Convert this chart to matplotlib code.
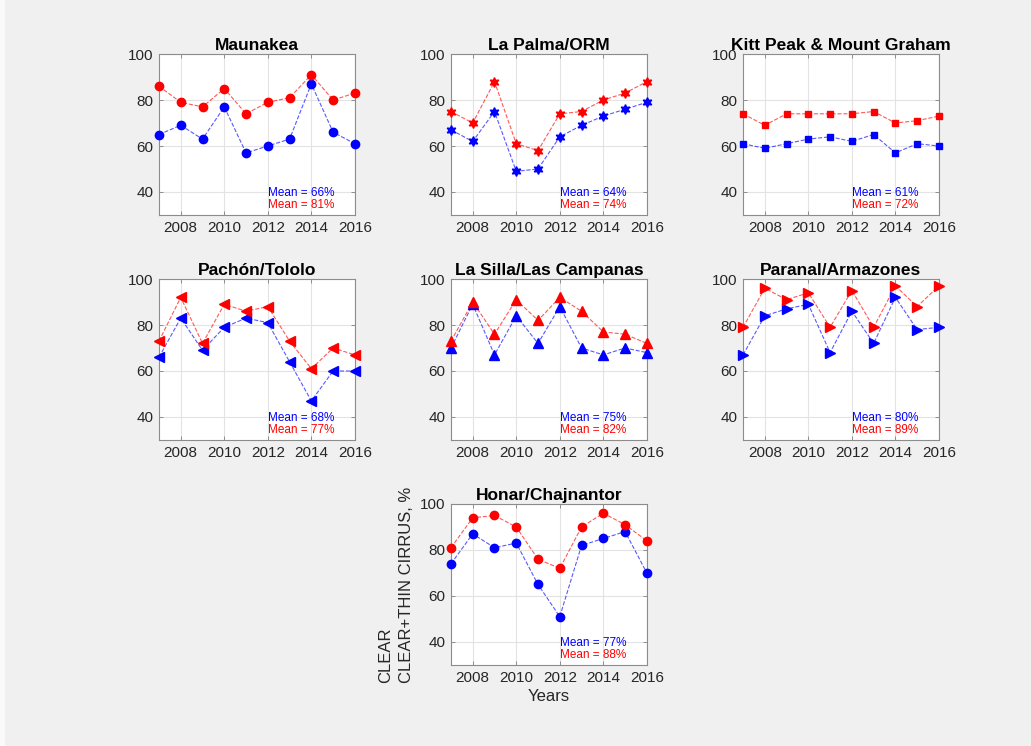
import matplotlib
matplotlib.use('Agg')
import matplotlib.pyplot as plt
from matplotlib.patches import Rectangle

plt.rcParams['font.family'] = ['Liberation Sans', 'DejaVu Sans']

years = [2007, 2008, 2009, 2010, 2011, 2012, 2013, 2014, 2015, 2016]

sites = ['Maunakea', 'La Palma/ORM', 'Kitt Peak & Mount Graham',
         'Pachón/Tololo', 'La Silla/Las Campanas', 'Paranal/Armazones',
         'Honar/Chajnantor']

clear = [
    [65, 69, 63, 77, 57, 60, 63, 87, 66, 61],
    [67, 62, 75, 49, 50, 64, 69, 73, 76, 79],
    [61, 59, 61, 63, 64, 62, 65, 57, 61, 60],
    [66, 83, 69, 79, 83, 81, 64, 47, 60, 60],
    [70, 89, 67, 84, 72, 88, 70, 67, 70, 68],
    [67, 84, 87, 89, 68, 86, 72, 92, 78, 79],
    [74, 87, 81, 83, 65, 51, 82, 85, 88, 70],
]
clear_cirrus = [
    [86, 79, 77, 85, 74, 79, 81, 91, 80, 83],
    [75, 70, 88, 61, 58, 74, 75, 80, 83, 88],
    [74, 69, 74, 74, 74, 74, 75, 70, 71, 73],
    [73, 92, 72, 89, 86, 88, 73, 61, 70, 67],
    [73, 90, 76, 91, 82, 92, 86, 77, 76, 72],
    [79, 96, 91, 94, 79, 95, 79, 97, 88, 97],
    [81, 94, 95, 90, 76, 72, 90, 96, 91, 84],
]
mean_clear = [66, 64, 61, 68, 75, 80, 77]
mean_cirrus = [81, 74, 72, 77, 82, 89, 88]

# marker per site (hexagram for La Palma)
markers = ['o', (6, 1, 0), 's', '<', '^', '>', 'o']
msizes = [6, 7, 5, 7, 7, 7, 6]

# axes boxes in figure fractions
cols = [0.1542, 0.4374, 0.7207]
rows = [0.7118, 0.4102, 0.1086]
positions = []
for r in range(2):
    for c in range(3):
        positions.append([cols[c], rows[r], 0.190, 0.2158])
positions.append([cols[1], rows[2], 0.190, 0.2158])

fig = plt.figure(figsize=(10.31, 7.46), dpi=100)
fig.patch.set_facecolor('#f0f0f0')
fig.patches.append(Rectangle((0, 0), 0.005, 1, transform=fig.transFigure,
                             facecolor='#fafafa', edgecolor='none', zorder=-1))

txt = '#262626'
for i, site in enumerate(sites):
    ax = fig.add_axes(positions[i])
    ax.set_facecolor('white')
    ax.plot(years, clear[i], '--', color=(0, 0, 1, 0.65), lw=0.8)
    ax.plot(years, clear_cirrus[i], '--', color=(1, 0, 0, 0.65), lw=0.8)
    ax.plot(years, clear[i], ls='none', marker=markers[i], ms=msizes[i],
            color='#0000ff', mec='#0000ff', clip_on=False, zorder=3)
    ax.plot(years, clear_cirrus[i], ls='none', marker=markers[i], ms=msizes[i],
            color='#ff0000', mec='#ff0000', clip_on=False, zorder=3)
    ax.set_xlim(2007, 2016)
    ax.set_ylim(30, 100)
    ax.set_xticks([2008, 2010, 2012, 2014, 2016])
    ax.set_yticks([40, 60, 80, 100])
    ax.grid(True, color='#e3e3e3', lw=0.8)
    ax.set_axisbelow(True)
    ax.tick_params(direction='in', length=3, width=0.6, colors='#808080',
                   labelcolor=txt, labelsize=11, top=True, right=True, pad=4)
    for s in ax.spines.values():
        s.set_color('#8c8c8c')
        s.set_linewidth(0.8)
    ax.set_title(site, fontsize=12.5, fontweight='bold', color='black', pad=3)
    ax.text(2012, 39.5, 'Mean = %d%%' % mean_clear[i], color='#0000ff',
            fontsize=8.5, va='center', ha='left')
    ax.text(2012, 34.5, 'Mean = %d%%' % mean_cirrus[i], color='#ff0000',
            fontsize=8.5, va='center', ha='left')
    if i == 6:
        ax.set_xlabel('Years', fontsize=12, color=txt, labelpad=3)
        ax.set_ylabel('CLEAR\nCLEAR+THIN CIRRUS, %', fontsize=12, color=txt,
                      multialignment='left', linespacing=1.55, labelpad=4)

fig.savefig('out.png', dpi=100, facecolor=fig.get_facecolor())
